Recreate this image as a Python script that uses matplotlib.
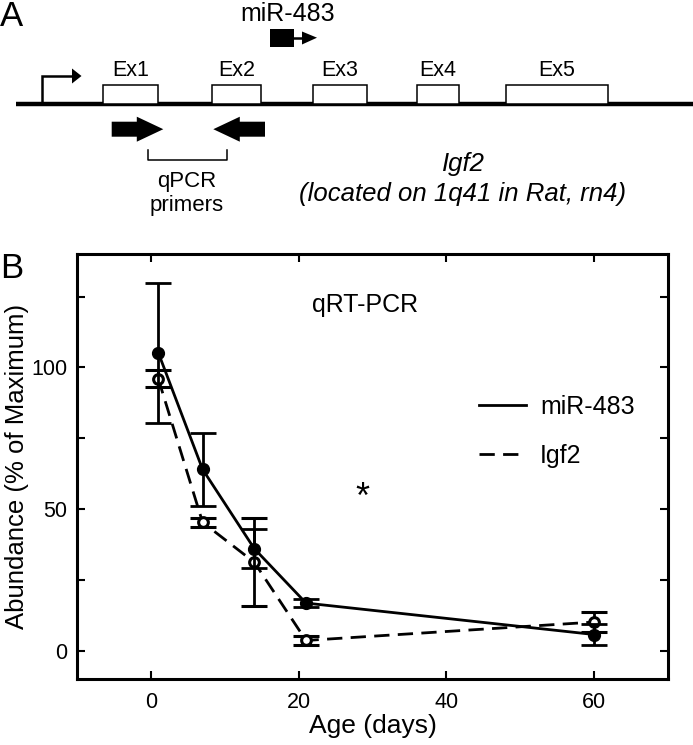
import matplotlib

matplotlib.use("Agg")
import matplotlib.pyplot as plt
from matplotlib.lines import Line2D
from matplotlib.patches import FancyArrow, Polygon, Rectangle

plt.rcParams["font.family"] = ["Liberation Sans", "DejaVu Sans"]

# --- panel B data
AGE_DAYS = [1, 7, 14, 21, 60]
MIR483_MEAN = [105.2, 64.0, 36.0, 16.8, 5.7]
MIR483_ERR = [24.7, 13.0, 6.9, 1.5, 3.6]
IGF2_MEAN = [96.0, 45.3, 31.2, 3.6, 10.1]
IGF2_ERR = [3.0, 1.5, 15.5, 1.5, 3.6]
SERIES_LABELS = ["miR-483", "Igf2"]

X_TICKS = [0, 20, 40, 60]
Y_TICKS = [0, 50, 100]
Y_MINOR = [25, 75, 125]

# --- panel A gene schematic (diagram units = figure pixels)
EXON_NAMES = ["Ex1", "Ex2", "Ex3", "Ex4", "Ex5"]
EXON_START = [103, 212, 313, 417, 506]
EXON_END = [158, 261, 367, 459, 608]

W, H, DPI = 693, 745, 100
fig = plt.figure(figsize=(W / DPI, H / DPI), dpi=DPI)

# ---------------- panel A
top_h = 235
axa = fig.add_axes([0, 1 - top_h / H, 1, top_h / H])
axa.set_xlim(0, W)
axa.set_ylim(top_h, 0)
axa.axis("off")

axa.text(0, 17, "A", fontsize=25, ha="left", va="center")
axa.plot([16, W], [103.5, 103.5], color="black", lw=3.2, solid_capstyle="butt", zorder=1)
# promoter arrow
axa.plot([41.7, 41.7, 73], [103.5, 76, 76], color="black", lw=1.8,
         solid_joinstyle="miter", zorder=2)
axa.add_patch(Polygon([[72, 68.5], [81.5, 76], [72, 83.5]], closed=True,
                      color="black", lw=0))
for name, s, e in zip(EXON_NAMES, EXON_START, EXON_END):
    axa.add_patch(Rectangle((s, 85), e - s, 18.5, facecolor="white",
                            edgecolor="black", lw=1.1, zorder=3))
    axa.text((s + e) / 2, 70, name, fontsize=15.5, ha="center", va="center")

# miR-483 locus
axa.text(288, 14, "miR-483", fontsize=18, ha="center", va="center")
axa.add_patch(Rectangle((270, 28.5), 23.5, 18.5, color="black", lw=0))
axa.plot([293, 303], [37.7, 37.7], color="black", lw=1.8)
axa.add_patch(Polygon([[302, 31.5], [317, 37.7], [302, 44.5]], closed=True,
                      color="black", lw=0))

# primers
axa.add_patch(FancyArrow(111.7, 129.2, 51.6, 0, width=15, head_width=25,
                         head_length=26.5, length_includes_head=True,
                         color="black", lw=0))
axa.add_patch(FancyArrow(265, 129.2, -51.7, 0, width=15, head_width=25,
                         head_length=26.5, length_includes_head=True,
                         color="black", lw=0))
axa.plot([147.7, 147.7, 226.7, 226.7], [150, 160, 160, 150], color="black", lw=1.1)
axa.text(187, 181, "qPCR", fontsize=16, ha="center", va="center")
axa.text(187, 206, "primers", fontsize=16, ha="center", va="center")

axa.text(463, 164, "Igf2", fontsize=18.5, style="italic", ha="center", va="center")
axa.text(463, 194, "(located on 1q41 in Rat, rn4)", fontsize=18.5, style="italic",
         ha="center", va="center")

# ---------------- panel B
L, R, T, B = 77, 668, 254, 679
ax = fig.add_axes([L / W, 1 - B / H, (R - L) / W, (B - T) / H])
ax.set_xlim(-10, 70)
ax.set_ylim(-10, 140)

dash = (0, (5.5, 3))
ax.plot(AGE_DAYS, MIR483_MEAN, color="black", lw=2, zorder=3)
ax.plot(AGE_DAYS, IGF2_MEAN, color="black", lw=2, ls=dash, zorder=3)
ax.errorbar(AGE_DAYS, IGF2_MEAN, yerr=IGF2_ERR, fmt="o", ms=7, mfc="white",
            mec="black", mew=2.2, ecolor="black", elinewidth=2, capsize=9.5,
            capthick=2, zorder=4)
ax.errorbar(AGE_DAYS, MIR483_MEAN, yerr=MIR483_ERR, fmt="o", ms=8.5, mfc="black",
            mec="black", ecolor="black", elinewidth=2, capsize=9.5,
            capthick=2, zorder=5)

handles = [Line2D([], [], color="black", lw=2),
           Line2D([], [], color="black", lw=2, ls=dash)]
ax.legend(handles, SERIES_LABELS, loc="upper left", bbox_to_anchor=(0.68, 0.668),
          frameon=False, fontsize=18, handlelength=1.9, handletextpad=0.55,
          labelspacing=1.0, borderpad=0, borderaxespad=0)

ax.text(29, 122, "qRT-PCR", fontsize=18, ha="center", va="center")
ax.text(28.6, 50.5, "*", fontsize=26, ha="center", va="baseline")

ax.set_xticks(X_TICKS)
ax.set_yticks(Y_TICKS)
ax.set_yticks(Y_MINOR, minor=True)
ax.tick_params(which="both", direction="in", length=6, width=1.5,
               top=True, right=True, labelsize=15.5)
ax.tick_params(axis="x", pad=9.5)
ax.tick_params(axis="y", pad=7)
for sp in ax.spines.values():
    sp.set_linewidth(2.2)

ax.set_xlabel("Age (days)", fontsize=19, va="top")
ax.xaxis.set_label_coords(0.5, -(714 - B) / (B - T))
ax.set_ylabel("Abundance (% of Maximum)", fontsize=18.5)
ax.yaxis.set_label_coords(-(L - 29) / (R - L), 0.5)

fig.text(0, 1 - 268 / H, "B", fontsize=25, ha="left", va="center")

fig.savefig("out.png", dpi=DPI)
